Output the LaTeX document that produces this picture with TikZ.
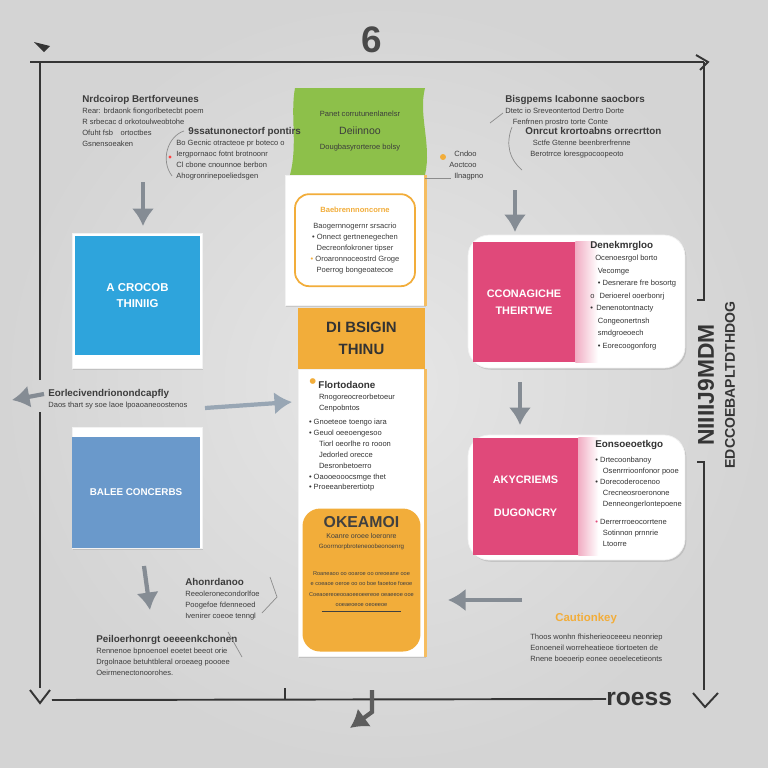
\documentclass[tikz,border=0pt]{standalone}
\usepackage{fontspec}
\setmainfont{Liberation Sans}
\usepackage{xcolor}
\usetikzlibrary{arrows.meta,positioning,shadows}
\definecolor{paperbg}{HTML}{D4D4D4}
\definecolor{paperlight}{HTML}{E6E6E6}
\definecolor{framegray}{HTML}{353535}
\definecolor{inkgray}{HTML}{3C3C3C}
\definecolor{leafgreen}{HTML}{8DC04A}
\definecolor{sunorange}{HTML}{F2AD3A}
\definecolor{skycyan}{HTML}{2EA4DC}
\definecolor{steelblue}{HTML}{6A99CB}
\definecolor{rosepink}{HTML}{E0497A}
\definecolor{arrowgray}{HTML}{858C94}
\definecolor{arrowblue}{HTML}{98A6B4}
\newcommand{\hd}[1]{{\bfseries\fontsize{5.6}{6.4}\selectfont #1}}
\tikzset{
  notetext/.style={
    anchor=north west,
    align=left,
    inner sep=0pt,
    text=inkgray,
    font=\fontsize{4.3}{6.2}\selectfont
  },
  whitecard/.style={
    fill=white,
    draw=black!5,
    inner sep=0pt,
    drop shadow={opacity=0.25,shadow xshift=0.8pt,shadow yshift=-1pt}
  },
  panel/.style={
    inner sep=0pt,
    align=center,
    text=white,
    font=\bfseries\fontsize{6.5}{9}\selectfont
  },
  fatarrow/.style={
    -{Latex[length=3.5mm,width=4.5mm]},
    line width=2.4pt,
    draw=arrowgray
  },
  frameline/.style={draw=framegray, line width=1.1pt},
  thinlink/.style={draw=black!45, line width=0.4pt},
  edgestripe/.style={draw=sunorange!80, line width=1.4pt}
}

\begin{document}
\begin{tikzpicture}[x=0.02cm, y=-0.02cm, node distance=0pt]
\useasboundingbox (0,0) rectangle (768,768);
\shade[inner color=paperlight, outer color=paperbg] (0,0) rectangle (768,768);

% frame round the whole process
\coordinate (ftl) at (40,62);
\coordinate (ftr) at (704,62);
\coordinate (fbl) at (40,688);
\coordinate (fbr) at (704,690);
\draw[frameline] (30,62) -- (ftr);
\draw[frameline] (ftl) -- (40,380);
\draw[frameline] (40,412) -- (fbl);
\draw[frameline] (ftr) -- (704,300) -- (697,300);
\draw[frameline] (697,462) -- (704,462) -- (fbr);
\draw[frameline] (696,55) -- (708,62) -- (700,70);
\fill[framegray] (34,42) -- (50,46) -- (44,52) -- cycle;
\draw[frameline] (30,690) -- (40,703) -- (50,690);
\draw[frameline] (693,693) -- (705,707) -- (718,693);
\node[font=\bfseries\fontsize{14}{14}\selectfont, text=framegray, anchor=west, inner sep=0pt] (roess) at (606,699) {roess};
\draw[frameline] (52,700) -- (roess.west);
\draw[frameline] (285,688) -- (285,700);
\node[font=\bfseries\fontsize{21}{21}\selectfont, text=framegray!90] (stepnum) at (372,40) {6};

% side title
\node[rotate=90, font=\bfseries\fontsize{13}{13}\selectfont, text=framegray, inner sep=0pt] (sidetitle) at (706,385) {NIIIIJ9MDM};
\node[rotate=90, font=\bfseries\fontsize{8}{8}\selectfont, text=framegray, inner sep=0pt] (sidesub) at (730,385) {EDCCOEBAPLTDTHDOG};

% centre column
\fill[leafgreen] (295,88) -- (425,88) .. controls (418,115) and (432,145) .. (425,175)
  -- (290,175) .. controls (298,145) and (290,115) .. (295,88) -- cycle;
\node[inner sep=0pt, minimum width=2.6cm, minimum height=1.74cm, align=center, text=inkgray, font=\fontsize{4.3}{6.2}\selectfont] (brief) at (360,131)
  {Panet corrutunenlanelsr\\[4pt] {\fontsize{6}{7}\selectfont Deiinnoo}\\[2pt] Dougbasyrorteroe bolsy};
\node[whitecard, minimum width=2.8cm, minimum height=2.6cm, below=0pt of brief, xshift=-0.1cm] (ideas) {};
\draw[edgestripe] (ideas.north east) -- (ideas.south east);
\node[rounded corners=8pt, draw=sunorange, line width=1pt, fill=white, minimum width=2.4cm, minimum height=1.84cm, align=center, text=inkgray, font=\fontsize{4.3}{6.2}\selectfont] (ideasbox) at (ideas.center)
  {{\color{sunorange}\bfseries Baebrennnoncorne}\\[3pt] Baogernnogernr srsacrio\\ • Onnect gertnenegechen\\ Decreonfokroner tipser\\ {\color{sunorange}•} Oroaronnoceostrd Groge\\ Poerrog bongeoatecoe};
\node[panel, fill=sunorange, text=black!80, minimum width=2.54cm, minimum height=1.22cm, below=0.04cm of ideas, xshift=0.13cm, font=\bfseries\fontsize{8.5}{12}\selectfont] (design) {DI BSIGIN\\THINU};
\node[whitecard, minimum width=2.54cm, minimum height=5.74cm, below=0pt of design] (steps) {};
\draw[edgestripe] (steps.north east) -- (steps.south east);
\node[notetext, text=black!80] (stepnote) at ([xshift=0.22cm,yshift=-0.18cm]steps.north west)
  {{\color{sunorange}\large•} \hd{Flortodaone}\\ \hspace{2mm}Rnogoreocreorbetoeur\\ \hspace{2mm}Cenpobntos\\[2pt] • Gnoeteoe toengo iara\\ • Geuol oeeoengesoo\\ \hspace{2mm}Tiorl oeorlhe ro rooon\\ \hspace{2mm}Jedorled orecce\\ \hspace{2mm}Desronbetoerro\\ • Oaooeooocsmge thet\\ • Proeeanberertiotp};
\node[rounded corners=10pt, fill=sunorange, minimum width=2.36cm, minimum height=2.86cm, anchor=south, align=center, text=black!75, font=\fontsize{4}{6}\selectfont] (outcome) at ([yshift=0.1cm]steps.south)
  {{\bfseries\fontsize{9}{11}\selectfont OKEAMOI}\\ Koanre oroee loeronre\\ {\fontsize{3.5}{5}\selectfont Goorrnorpbroteneoobeonoenrg}\\[9pt]
   {\fontsize{3.2}{5}\selectfont Roaneaoo oo ooaroe oo oreoeane ooe}\\ {\fontsize{3.2}{5}\selectfont e coeaoe oeroe oo oo boe faoetoe foeoe}\\ {\fontsize{3.2}{5}\selectfont Coeaoereoeooaoeeoeereoe oeaeeoe ooe}\\ {\fontsize{3.2}{5}\selectfont ooeaeoeoe oeoeeoe}\\[-3pt] \rule{1.6cm}{0.3pt}\\[12pt]};

% left column
\node[notetext] (tlnote) at (82,95) {\hd{Nrdcoirop Bertforveunes}\\ Rear: brdaonk fiongorlbetecbt poem\\ R srbecac d orkotoulweobtohe\\ Ofuht fsb\quad ortoctbes\\ Gsnensoeaken};
\node[notetext] (tlsub) at (176,127) {\hspace{2.4mm}\hd{9ssatunonectorf pontirs}\\ Bo Gecnic otracteoe pr boteco o\\ Iergpornaoc fotnt brotnoonr\\ Cl cbone cnounnoe berbon\\ Ahogronrinepoeliedsgen};
\node[circle, fill=red!75, inner sep=0.7pt] (reddot) at (170,157) {};
\draw[thinlink] (184,131) .. controls (168,136) and (160,160) .. (172,176);
\node[whitecard, minimum width=2.6cm, minimum height=2.7cm] (crowdframe) at (137,300.5) {};
\node[panel, fill=skycyan, minimum width=2.5cm, minimum height=2.38cm] (crowd) at (137.5,295.5) {A CROCOB\\THINIIG};
\node[notetext] (midnote) at (48,389) {\hd{Eorlecivendrionondcapfly}\\ Daos thart sy soe laoe lpoaoaneoostenos};
\node[whitecard, minimum width=2.6cm, minimum height=2.42cm] (edgeframe) at (137,487.5) {};
\node[panel, fill=steelblue, minimum width=2.56cm, minimum height=2.22cm, font=\bfseries\fontsize{5.6}{7}\selectfont] (edges) at (136,492.5) {BALEE CONCERBS};
\node[notetext] (lownote) at (185,578) {\hd{Ahonrdanoo}\\ Reeoleronecondorlfoe\\ Poogefoe fdenneoed\\ Ivenirer coeoe tenngl};
\draw[thinlink] (270,577) -- (277,597) -- (262,613);
\node[notetext] (basenote) at (96,635) {\hd{Peiloerhonrgt oeeeenkchonen}\\ Rennenoe bpnoenoel eoetet beeot orie\\ Drgolnaoe betuhtbleral oroeaeg poooee\\ Oeirmenectonoorohes.};
\draw[thinlink] (228,632) -- (242,657);

% right column
\node[notetext] (trnote) at (505,95) {\hd{Bisgpems Icabonne saocbors}\\ Dtetc io Sreveontertod Dertro Dorte\\ \hspace{1.5mm}Fenfrnen prostro torte Conte};
\node[notetext] (trsub) at (525,127) {\hd{Onrcut krortoabns orrecrtton}\\ \hspace{1.5mm}Sctfe Gtenne beenbrerfrenne\\ \hspace{1mm}Berotrrce loresgpocoopeoto};
\draw[thinlink] (490,123) -- (503,113);
\draw[thinlink] (512,127) .. controls (505,145) and (510,160) .. (522,170);
\node[circle, fill=sunorange, inner sep=1.2pt] (sidedot) at (443,157) {};
\node[notetext] (sidenote) at (449,151) {\hspace{1mm}Cndoo\\ Aoctcoo\\ \hspace{1mm}Ilnagpno};
\draw[thinlink] ([yshift=-0.08cm]ideas.north east) -- +(26,0);

\node[whitecard, rounded corners=12pt, minimum width=4.34cm, minimum height=2.66cm] (cardA) at (576.5,301.5) {};
\node[panel, fill=rosepink, minimum width=2.04cm, minimum height=2.4cm, font=\bfseries\fontsize{6.2}{10}\selectfont] (pinkA) at (524,302) {CCONAGICHE\\THEIRTWE};
\shade[left color=rosepink!45, right color=white] (pinkA.north east) rectangle ([xshift=0.45cm]pinkA.south east);
\node[notetext, text=black!80, font=\fontsize{4.3}{7.1}\selectfont] (cardnoteA) at (590,241)
  {\hd{Denekmrgloo}\\ \hspace{1mm}Ocenoesrgol borto\\ \hspace{1.5mm}Vecomge\\ \hspace{1.5mm}• Desnerare fre bosortg\\ o\hspace{1mm}Derioerel ooerbonrj\\ • \,Denenotontnacty\\ \hspace{1.5mm}Congeonertnsh\\ \hspace{1.5mm}smdgroeoech\\ \hspace{1.5mm}• Eorecoogonforg};

\node[whitecard, rounded corners=12pt, minimum width=4.34cm, minimum height=2.5cm] (cardB) at (576.5,497.5) {};
\node[panel, fill=rosepink, minimum width=2.1cm, minimum height=2.34cm, font=\bfseries\fontsize{6.2}{10}\selectfont] (pinkB) at (525.5,496.5) {AKYCRIEMS\\[9pt]DUGONCRY};
\shade[left color=rosepink!45, right color=white] (pinkB.north east) rectangle ([xshift=0.4cm]pinkB.south east);
\node[notetext, text=black!80, font=\fontsize{4.3}{6.3}\selectfont] (cardnoteB) at (595,440)
  {\hd{Eonsoeoetkgo}\\[2pt] • Drtecoonbanoy\\ \hspace{1.5mm}Osenrrrioonfonor pooe\\ • Dorecoderocenoo\\ \hspace{1.5mm}Crecneosroeronone\\ \hspace{1.5mm}Denneongerlontepoene\\[4pt] {\color{rosepink}•} Derrerrroeocorrtene\\ \hspace{1.5mm}Sotinnon prnnrie\\ \hspace{1.5mm}Ltoorre};

\node[notetext] (caution) at (530,613)
  {\hspace{5mm}{\color{sunorange}\bfseries\fontsize{6.5}{7}\selectfont Cautionkey}\\[4pt] Thoos wonhn fhisherieoceeeu neonriep\\ Eonoeneil worreheatieoe tiortoeten de\\ Rnene boeoerip eonee oeoelecetieonts};

% big arrows
\coordinate (arrAtail) at (143,182);
\coordinate (arrAhead) at (143,226);
\coordinate (arrBtail) at (515,190);
\coordinate (arrBhead) at (515,232);
\coordinate (arrCtail) at (520,382);
\coordinate (arrChead) at (520,425);
\coordinate (arrDtail) at (205,408);
\coordinate (arrDhead) at (292,402);
\coordinate (arrEtail) at (44,394);
\coordinate (arrEhead) at (12,400);
\coordinate (arrFtail) at (144,566);
\coordinate (arrFhead) at (150,610);
\coordinate (arrGtail) at (522,600);
\coordinate (arrGhead) at (448,600);
\coordinate (arrHtail) at (372,690);
\coordinate (arrHbend) at (372,712);
\coordinate (arrHhead) at (350,728);
\draw[fatarrow] (arrAtail) -- (arrAhead);
\draw[fatarrow] (arrBtail) -- (arrBhead);
\draw[fatarrow] (arrCtail) -- (arrChead);
\draw[fatarrow, draw=arrowblue] (arrDtail) -- (arrDhead);
\draw[fatarrow] (arrEtail) -- (arrEhead);
\draw[fatarrow] (arrFtail) -- (arrFhead);
\draw[fatarrow] (arrGtail) -- (arrGhead);
\draw[fatarrow, draw=framegray!80] (arrHtail) -- (arrHbend) -- (arrHhead);
\end{tikzpicture}
\end{document}
